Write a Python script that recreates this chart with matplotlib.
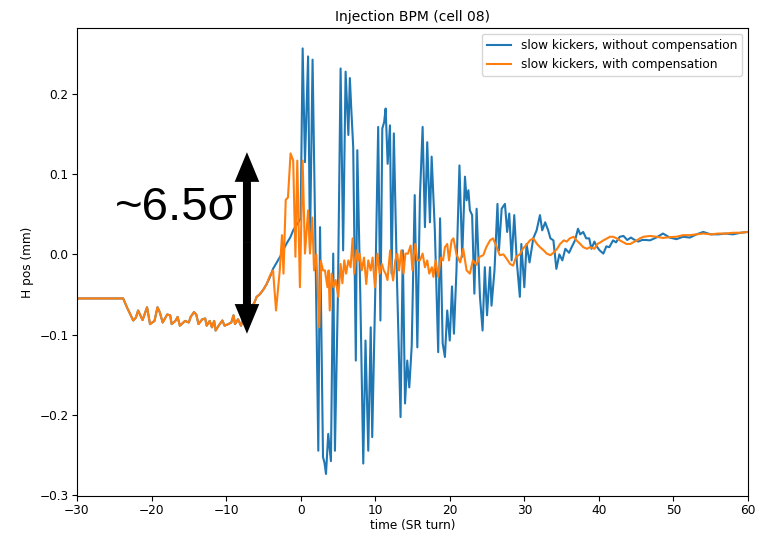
import matplotlib
matplotlib.use("Agg")
import matplotlib.pyplot as plt

# before injection both curves lie on top of each other
pre_t = [-30, -23.8, -23.3, -22.45, -22.1, -21.8, -21.2, -20.6, -20.2, -19.6,
         -19.2, -18.9, -18.5, -17.9, -17.5, -17.3, -16.8, -16.5, -16.2, -15.5,
         -15.0, -14.75, -14.3, -14.0, -13.7, -13.2, -12.8, -12.6, -12.2, -11.9,
         -11.6, -11.4, -11.0, -10.5, -10.2, -9.7, -9.3, -9.0, -8.8, -8.4,
         -8.0, -7.6, -7.2, -6.8, -6.6, -6.2, -5.9, -5.5, -5.0, -4.56]
pre_v = [-0.055, -0.055, -0.066, -0.0825, -0.079, -0.070, -0.082, -0.066, -0.087, -0.083,
         -0.066, -0.072, -0.085, -0.075, -0.076, -0.087, -0.083, -0.078, -0.089, -0.083,
         -0.085, -0.078, -0.072, -0.075, -0.087, -0.081, -0.080, -0.089, -0.083, -0.091,
         -0.083, -0.095, -0.089, -0.0825, -0.089, -0.087, -0.085, -0.076, -0.087, -0.081,
         -0.089, -0.078, -0.086, -0.072, -0.066, -0.060, -0.053, -0.050, -0.044, -0.037]

blue_t = [-4.1, -3.7, -3.2, -2.7, -2.2, -1.8, -1.4, -1.0, -0.6, -0.3,
          0.0, 0.27, 0.58, 1.0, 1.25, 1.6, 2.0, 2.37, 2.6, 3.0,
          3.2, 3.4, 3.7, 4.06, 4.37, 4.6, 5.0, 5.36, 5.7, 6.03,
          6.4, 6.6, 6.8, 7.05, 7.4, 7.6, 8.0, 8.4, 8.7, 9.07,
          9.4, 9.6, 10.0, 10.4, 10.7, 10.95, 11.2, 11.4, 11.67, 11.98,
          12.2, 12.5, 12.9, 13.4, 13.7, 14.0, 14.3, 14.57, 14.9, 15.3,
          15.65, 16.0, 16.36, 16.67, 16.98, 17.34, 17.57, 18.0, 18.45, 18.7,
          19.05, 19.35, 19.66, 20.0, 20.3, 20.56, 20.9, 21.3, 21.67, 22.04,
          22.26, 22.5, 22.7, 23.0, 23.3, 23.6, 24.05, 24.4, 24.7, 25.0,
          25.4, 25.6, 26.0, 26.4, 26.6, 26.96, 27.4, 27.7, 27.98, 28.3,
          28.65, 29.0, 29.4, 29.6, 30.0, 30.3, 30.7, 31.2, 31.65, 32.1,
          32.4, 32.8, 33.2, 33.5, 33.9, 34.3, 34.7, 35.1, 35.5, 36.0,
          36.4, 36.8, 37.2, 37.5, 37.9, 38.3, 38.7, 39.0, 39.4, 39.7,
          40.1, 40.6, 41.0, 41.4, 41.9, 42.3, 42.8, 43.3, 43.8, 44.3,
          44.8, 45.3, 45.8, 46.3, 46.85, 47.7, 48.6, 49.5, 50.4, 51.3,
          52.2, 53.1, 54.0, 55.0, 56.0, 57.0, 58.0, 59.0, 60.0]
blue_v = [-0.028, -0.018, -0.010, -0.002, 0.008, 0.015, 0.021, 0.030, 0.036, 0.040,
          0.045, 0.257, 0.115, 0.247, 0.009, 0.243, 0.000, -0.245, 0.034, -0.253,
          -0.260, -0.274, -0.224, -0.258, 0.001, -0.245, -0.050, 0.232, 0.005, 0.228,
          0.149, 0.220, 0.180, 0.134, -0.1325, 0.130, -0.050, -0.261, -0.1075, -0.245,
          -0.091, -0.228, -0.050, 0.159, -0.0825, 0.157, 0.165, 0.182, 0.113, 0.161,
          -0.024, 0.151, -0.024, -0.203, 0.005, -0.186, -0.1325, -0.166, -0.114, 0.074,
          -0.116, 0.072, 0.159, 0.034, 0.140, 0.040, 0.122, 0.030, -0.122, 0.045,
          -0.111, -0.128, -0.070, -0.1075, -0.040, -0.099, -0.020, 0.111, -0.003, 0.097,
          0.0675, 0.080, 0.055, 0.049, -0.049, 0.057, -0.053, -0.095, -0.016, -0.076,
          -0.016, -0.064, -0.020, 0.063, 0.005, 0.057, 0.063, 0.028, 0.051, -0.0075,
          0.049, -0.010, -0.053, 0.013, -0.041, 0.013, -0.010, 0.020, 0.030, 0.049,
          0.030, 0.040, 0.030, 0.020, 0.0175, -0.018, 0.000, -0.0075, 0.007, 0.002,
          0.010, 0.0175, 0.032, 0.025, 0.028, 0.020, 0.020, 0.007, 0.016, 0.010,
          0.005, 0.001, 0.010, 0.009, 0.0175, 0.015, 0.022, 0.023, 0.018, 0.021,
          0.018, 0.016, 0.018, 0.018, 0.0175, 0.021, 0.026, 0.021, 0.019, 0.022,
          0.021, 0.025, 0.028, 0.025, 0.025, 0.026, 0.025, 0.027, 0.028]

orange_t = [-4.1, -3.7, -3.3, -2.8, -2.5, -2.3, -2.0, -1.7, -1.35, -1.0,
            -0.7, -0.45, -0.1, 0.27, 0.58, 1.0, 1.25, 1.56, 1.8, 2.1,
            2.5, 2.7, 3.0, 3.26, 3.6, 3.75, 3.9, 4.15, 4.4, 4.7,
            5.05, 5.36, 5.6, 5.85, 6.1, 6.4, 6.7, 6.97, 7.2, 7.5,
            7.7, 7.9, 8.2, 8.5, 8.8, 9.07, 9.4, 9.65, 9.97, 10.3,
            10.6, 10.9, 11.15, 11.4, 11.65, 12.0, 12.2, 12.4, 12.7, 12.96,
            13.2, 13.5, 13.8, 14.05, 14.4, 14.75, 15.0, 15.37, 15.65, 16.0,
            16.36, 16.67, 16.98, 17.25, 17.6, 17.8, 18.1, 18.45, 18.8, 19.1,
            19.35, 19.66, 19.9, 20.25, 20.5, 20.9, 21.4, 21.8, 22.26, 22.7,
            23.1, 23.6, 24.0, 24.5, 24.9, 25.4, 25.8, 26.3, 26.7, 27.2,
            27.6, 28.1, 28.5, 28.9, 29.4, 29.8, 30.3, 30.75, 31.2, 31.7,
            32.1, 32.6, 33.0, 33.5, 33.9, 34.4, 34.8, 35.3, 35.7, 36.1,
            36.6, 37.0, 37.5, 37.9, 38.4, 38.8, 39.4, 39.8, 40.2, 40.6,
            41.1, 41.5, 41.9, 42.4, 42.8, 43.3, 43.7, 44.2, 44.6, 45.1,
            45.5, 46.0, 46.85, 47.7, 48.6, 49.5, 50.4, 51.3, 52.2, 53.1,
            54.0, 55.0, 56.0, 57.0, 58.0, 59.0, 60.0]
orange_v = [-0.026, -0.020, -0.070, -0.020, 0.024, -0.024, 0.068, 0.071, 0.126, 0.117,
            -0.003, 0.117, -0.041, 0.117, 0.001, 0.055, 0.001, 0.046, -0.020, 0.000,
            -0.091, -0.008, -0.020, -0.020, -0.041, -0.020, -0.070, -0.024, -0.041, -0.032,
            -0.053, -0.012, -0.036, -0.0075, -0.024, -0.0075, -0.016, 0.020, -0.024, 0.005,
            -0.0075, 0.001, -0.020, -0.004, -0.037, -0.0075, -0.020, -0.004, -0.041, 0.001,
            -0.024, -0.012, -0.020, -0.024, -0.032, 0.005, -0.020, -0.0325, -0.0075, 0.001,
            -0.020, 0.005, -0.024, 0.001, 0.001, 0.011, -0.020, 0.013, -0.0075, -0.0075,
            0.001, -0.016, -0.0075, -0.024, -0.016, -0.028, -0.0075, -0.028, -0.004, -0.0075,
            0.009, 0.013, -0.0075, 0.0175, 0.020, 0.000, -0.010, 0.007, -0.020, -0.024,
            -0.0075, -0.013, -0.003, -0.001, 0.009, 0.0175, 0.020, 0.009, -0.001, 0.000,
            -0.005, -0.012, -0.014, -0.003, 0.000, 0.007, 0.012, 0.0175, 0.020, 0.013,
            0.009, 0.005, 0.001, -0.001, 0.002, 0.007, 0.013, 0.0175, 0.016, 0.020,
            0.022, 0.0175, 0.013, 0.009, 0.007, 0.009, 0.007, 0.013, 0.015, 0.0175,
            0.020, 0.022, 0.022, 0.020, 0.0175, 0.015, 0.013, 0.013, 0.015, 0.0175,
            0.020, 0.022, 0.023, 0.022, 0.0205, 0.0215, 0.022, 0.024, 0.024, 0.025,
            0.026, 0.025, 0.026, 0.026, 0.027, 0.027, 0.028]

# arrow: x position, top and bottom tips
arrow_x = -7.2
arrow_top = 0.1275
arrow_bottom = -0.099

fs = 8.7
fig = plt.figure(figsize=(7.59, 5.33), dpi=100)
ax = fig.add_subplot()
fig.subplots_adjust(left=0.1014, right=0.9855, top=0.9475, bottom=0.0694)

ax.plot(pre_t + blue_t, pre_v + blue_v, color='#1f77b4', lw=1.5,
        label='slow kickers, without compensation')
ax.plot(pre_t + orange_t, pre_v + orange_v, color='#ff7f0e', lw=1.5,
        label='slow kickers, with compensation')

ax.set_xlim(-30, 60)
ax.set_ylim(-0.3015, 0.2825)
ax.set_title('Injection BPM (cell 08)', fontsize=10, pad=5)
ax.set_xlabel('time (SR turn)', fontsize=fs, labelpad=1)
ax.set_ylabel('H pos (mm)', fontsize=fs)
ax.tick_params(labelsize=fs, pad=2.5)
ax.legend(loc='upper right', fontsize=fs)

# double headed arrow made of two arrows from the middle
mid = (arrow_top + arrow_bottom) / 2
for end in (arrow_top, arrow_bottom):
    ax.arrow(arrow_x, mid, 0, end - mid, width=1.07, head_width=3.3,
             head_length=0.037, length_includes_head=True,
             color='black', lw=0, zorder=5)
ax.text(-8.5, 0.043, '~6.5σ', fontsize=34, family='Liberation Sans',
        ha='right', va='baseline')

plt.savefig('out.png')
